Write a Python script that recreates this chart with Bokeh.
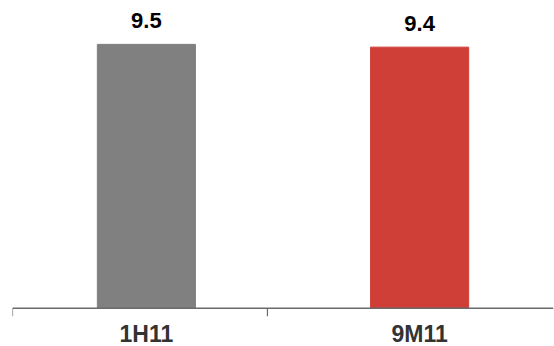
from bokeh.plotting import figure
from bokeh.models import Range1d, Span, ColumnDataSource
from bokeh.core.properties import value
from bokeh.embed import file_html
from bokeh.resources import INLINE

categories = ["1H11", "9M11"]
values = [9.5, 9.4]
labels = ["9.5", "9.4"]
colors = ["#808080", "#cf3f37"]

src = ColumnDataSource(dict(x=categories, top=values, label=labels, color=colors))

p = figure(x_range=categories, y_range=Range1d(-0.30, 11.08),
           frame_width=541, frame_height=316, output_backend="svg", toolbar_location=None,
           min_border_left=12, min_border_right=1, min_border_top=0, min_border_bottom=0)
p.x_range.range_padding = -0.01
p.x_range.range_padding_units = "absolute"
p.outline_line_color = None
p.background_fill_color = "white"
p.border_fill_color = "white"
p.xgrid.visible = False
p.ygrid.visible = False
p.yaxis.visible = False

p.vbar(x="x", top="top", bottom=0, width=0.359, color="color", source=src)
p.text(x="x", y="top", text="label", source=src, text_align="center",
       text_baseline="alphabetic", y_offset=-24, text_font=value("Liberation Sans"),
       text_font_style="bold", text_font_size="22px", text_color="#000000")

# axis baseline and separator ticks
p.add_layout(Span(location=0, dimension="width", line_color="#6a6a6a", line_width=1.5))
tick_x = [("1H11", -0.49), ("1H11", 0.443)]
p.segment(x0=tick_x, x1=tick_x, y0=[0, 0], y1=[-0.30, -0.30], line_color="#6a6a6a", line_width=1.2)

ax = p.xaxis[0]
ax.axis_line_color = None
ax.major_tick_line_color = None
ax.major_tick_in = 0
ax.major_tick_out = 0
ax.major_label_standoff = 4
ax.major_label_text_font = "Liberation Sans"
ax.major_label_text_font_style = "bold"
ax.major_label_text_font_size = "23px"
ax.major_label_text_color = "#333333"

open("out.html", "w").write(file_html(p, INLINE))
